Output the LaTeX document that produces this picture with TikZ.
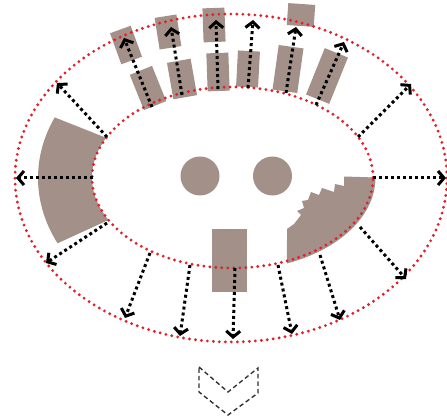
\documentclass[tikz,border=0pt]{standalone}
\usetikzlibrary{arrows.meta}
\definecolor{bldg}{RGB}{163,144,137}
\definecolor{ringred}{RGB}{226,32,42}
\tikzset{
  bldgbox/.style={fill=bldg, draw=none, inner sep=0pt, outer sep=0pt, rectangle},
  reddots/.style={draw=ringred, line width=3.2pt, dash pattern=on 0pt off 6pt, line cap=round},
  flowarrow/.style={draw=black, line width=3pt, dash pattern=on 3pt off 3pt,
     -{Straight Barb[length=6pt,width=14pt,line width=3pt]}},
  chevron/.style={draw=black!80, line width=1.4pt, dash pattern=on 4.5pt off 3pt}
}
\begin{document}
\begin{tikzpicture}[x=1pt,y=-1pt]
\useasboundingbox (0,0) rectangle (447,419);
% ---------- brown masses ----------
% left sector
\fill[bldg] plot[domain=204:154,samples=30] ({231+193*cos(\x)},{178+149*sin(\x)})
  -- plot[domain=152:206,samples=40] ({232.5+140.5*cos(\x)},{177.5+90.5*sin(\x)}) -- cycle;
% right stepped mass
\fill[bldg] plot[domain=67.6:0,samples=40] ({232.5+143*cos(\x)},{177.5+93*sin(\x)})
  -- (344,176.5) -- (344,186) -- (335,184) -- (334,192) -- (322,188) -- (319,195)
  -- (311,192) -- (308,200) -- (302,201) -- (304,208) -- (297,211)
  -- (301,215) -- (294,224) -- (287,229) -- cycle;
% circles
\node[bldgbox, circle, minimum size=39pt] (c1) at (200,176) {};
\node[bldgbox, circle, minimum size=39pt] (c2) at (272.5,176) {};
% bottom block
\node[bldgbox, minimum width=35pt, minimum height=63pt] (bb) at (229.5,260.5) {};
% top blocks
\node[bldgbox, minimum width=22pt, minimum height=33pt, rotate=20] (r1a) at (126,45) {};
\node[bldgbox, minimum width=24pt, minimum height=38pt, rotate=22] (r1b) at (148,88) {};
\node[bldgbox, minimum width=22pt, minimum height=32pt, rotate=9] (r2a) at (168,32) {};
\node[bldgbox, minimum width=24pt, minimum height=37pt, rotate=10] (r2b) at (182,79) {};
\node[bldgbox, minimum width=22pt, minimum height=34pt, rotate=2] (r3a) at (214,25) {};
\node[bldgbox, minimum width=22pt, minimum height=38pt, rotate=2] (r3b) at (218,72) {};
\node[bldgbox, minimum width=22pt, minimum height=36pt, rotate=-3] (r4b) at (248,69) {};
\node[bldgbox, minimum width=27pt, minimum height=22pt, rotate=-4] (r5a) at (301,15) {};
\node[bldgbox, minimum width=25pt, minimum height=45pt, rotate=-8] (r5b) at (288,69) {};
\node[bldgbox, minimum width=25pt, minimum height=50pt, rotate=-22] (r6b) at (327,76) {};
% ---------- rings ----------
\draw[reddots] (231,178) ellipse [x radius=216pt, y radius=164pt];
\draw[reddots] (232.5,177.5) ellipse [x radius=140.5pt, y radius=90.5pt];
% ---------- arrow endpoints ----------
\coordinate (s1) at (152,107); \coordinate (t1) at (124,38);
\coordinate (s2) at (182,95);  \coordinate (t2) at (171,27);
\coordinate (s3) at (218,89);  \coordinate (t3) at (216,20);
\coordinate (s4) at (248,88);  \coordinate (t4) at (253,20);
\coordinate (s5) at (286,93);  \coordinate (t5) at (296,27);
\coordinate (s6) at (316,105); \coordinate (t6) at (344,42);
\coordinate (sul) at (107,137); \coordinate (tul) at (57,83);
\coordinate (sur) at (358,137); \coordinate (tur) at (411,84);
\coordinate (sl) at (93,178);  \coordinate (tl) at (16,178);
\coordinate (sr) at (373,178); \coordinate (tr) at (446,178);
\coordinate (sll) at (107,223); \coordinate (tll) at (46,263);
\coordinate (slr) at (360,227); \coordinate (tlr) at (406,279);
\coordinate (sb1) at (150,253); \coordinate (tb1) at (125,318);
\coordinate (sb2) at (190,265); \coordinate (tb2) at (180,336);
\coordinate (sb3) at (235,268); \coordinate (tb3) at (233,339);
\coordinate (sb4) at (278,265); \coordinate (tb4) at (292,334);
\coordinate (sb5) at (320,255); \coordinate (tb5) at (340,320);
\foreach \a in {1,2,3,4,5,6,ul,ur,l,r,ll,lr,b1,b2,b3,b4,b5}
  \draw[flowarrow] (s\a) -- (t\a);
% ---------- chevron ----------
\coordinate (ch1) at (199,367); \coordinate (ch2) at (228,392);
\coordinate (ch3) at (258,368); \coordinate (ch4) at (258,393);
\coordinate (ch5) at (228,415); \coordinate (ch6) at (199,392);
\draw[chevron] (ch1) -- (ch2) -- (ch3) -- (ch4) -- (ch5) -- (ch6) -- cycle;
\end{tikzpicture}
\end{document}
